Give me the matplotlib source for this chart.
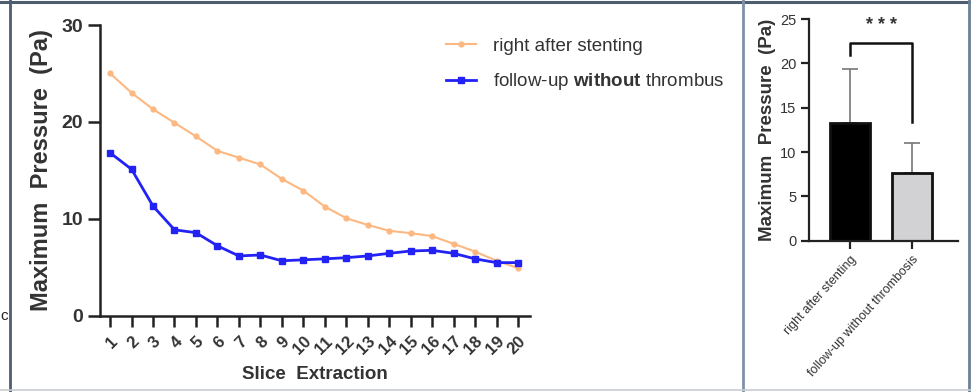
import matplotlib
matplotlib.use("Agg")
import matplotlib.pyplot as plt
from matplotlib.lines import Line2D

plt.rcParams['font.family'] = ['Liberation Sans', 'DejaVu Sans']
plt.rcParams['mathtext.fontset'] = 'custom'
plt.rcParams['mathtext.rm'] = 'Liberation Sans'
plt.rcParams['mathtext.bf'] = 'Liberation Sans:bold'

# ---- data ----
slices = list(range(1, 21))
after_stenting = [25.0, 23.0, 21.3, 19.9, 18.5, 17.0, 16.3, 15.6, 14.1, 12.9,
                  11.25, 10.05, 9.35, 8.75, 8.5, 8.2, 7.4, 6.6, 5.65, 4.9]
followup = [16.8, 15.1, 11.3, 8.85, 8.55, 7.2, 6.15, 6.25, 5.65, 5.75,
            5.85, 5.97, 6.15, 6.42, 6.66, 6.73, 6.42, 5.85, 5.46, 5.46]
bar_labels = ["right after stenting", "follow-up without thrombosis"]
bar_means = [13.25, 7.6]
bar_sd = [6.1, 3.4]
line_labels = ["right after stenting", r"follow-up $\bf{without}$ thrombus"]

W, H = 971, 392
fig = plt.figure(figsize=(W / 100, H / 100), dpi=100)

def rect(l, t, r, b):
    return [l / W, 1 - b / H, (r - l) / W, (b - t) / H]

# frame lines
def fline(x0, y0, x1, y1, color, lw):
    fig.add_artist(Line2D([x0 / W, x1 / W], [1 - y0 / H, 1 - y1 / H],
                          transform=fig.transFigure, color=color, lw=lw))
fline(0, 2, W, 2, '#4f5d70', 2.2)
fline(10, 0, 10, H, '#4f5d70', 2.0)
fline(969, 0, 969, H, '#6f7f95', 2.0)
fline(743, 0, 743, H, '#8090a8', 2.0)
fline(0, 389.5, W, 389.5, '#c8ccd2', 1.2)
fig.text(0 / W, 1 - 316 / H, "c", fontsize=11, va='center', ha='left',
         color='#222222')

axcol = '#222222'
# ---- left line chart ----
ax = fig.add_axes(rect(100, 25, 530, 315.5))
ax.plot(slices, after_stenting, color='#fdb882', lw=1.5, marker='o', ms=3.5,
        label=line_labels[0])
ax.plot(slices, followup, color='#2222f5', lw=2.0, marker='s', ms=4.5,
        label=line_labels[1])
ax.set_xlim(0.53, 20.56)
ax.set_ylim(0, 30)
ax.set_yticks([0, 10, 20, 30])
ax.set_xticks(slices)
ax.set_xticklabels([str(s) for s in slices], rotation=45, ha='right',
                   va='top', rotation_mode='anchor', fontsize=12,
                   fontweight='bold')
for lab in ax.get_yticklabels():
    lab.set_fontsize(14)
    lab.set_fontweight('bold')
for s in ['top', 'right']:
    ax.spines[s].set_visible(False)
for s in ['left', 'bottom']:
    ax.spines[s].set_linewidth(1.8)
    ax.spines[s].set_color(axcol)
ax.tick_params(axis='y', length=9, width=1.8, color=axcol, pad=3, labelcolor='#333333')
ax.tick_params(axis='x', length=8, width=1.8, color=axcol, pad=5, labelcolor='#333333')
ax.set_ylabel("Maximum  Pressure  (Pa)", fontsize=17, fontweight='bold',
              color='#333333', labelpad=6)
ax.set_xlabel("Slice  Extraction", fontsize=13.5, fontweight='bold',
              color='#333333', labelpad=6)
leg = ax.legend(loc='upper left', bbox_to_anchor=(346 / 430, 0.957),
                frameon=False, fontsize=13.5, handlelength=1.6,
                handletextpad=0.9, labelspacing=0.9, borderaxespad=0.0,
                borderpad=0.0)
for t in leg.get_texts():
    t.set_color('#333333')

# ---- right bar chart ----
bx = fig.add_axes(rect(809, 19, 958, 240.7))
xpos = [0, 1]
bx.bar(xpos, bar_means, width=0.65, color=['#000000', '#d2d2d4'],
       edgecolor='#111111', linewidth=2.0, zorder=2)
bx.errorbar(xpos, bar_means, yerr=[[0, 0], bar_sd], fmt='none',
            ecolor='#777777', elinewidth=1.2, capsize=6, capthick=1.2, zorder=1)
bx.set_xlim(-0.66, 1.74)
bx.set_ylim(0, 25)
bx.set_yticks([0, 5, 10, 15, 20, 25])
bx.set_xticks(xpos)
bx.set_xticklabels(bar_labels, rotation=48, ha='right', va='top',
                   rotation_mode='anchor', fontsize=9, color='#333333')
for s in ['top', 'right']:
    bx.spines[s].set_visible(False)
for s in ['left', 'bottom']:
    bx.spines[s].set_linewidth(1.6)
    bx.spines[s].set_color(axcol)
bx.tick_params(axis='both', length=6, width=1.6, color=axcol, pad=3,
               labelcolor='#333333')
bx.tick_params(axis='y', labelsize=10.5)
bx.set_ylabel("Maximum  Pressure  (Pa)", fontsize=13.5, fontweight='bold',
              color='#333333', labelpad=3)
# significance bracket
bx.plot([0, 0, 1, 1], [20.9, 22.3, 22.3, 13.4], color='#111111', lw=1.8,
        clip_on=False)
bx.text(0.5, 24.3, "* * *", ha='center', va='center', fontsize=13,
        fontweight='bold', color='#333333')

fig.savefig("out.png", dpi=100)
